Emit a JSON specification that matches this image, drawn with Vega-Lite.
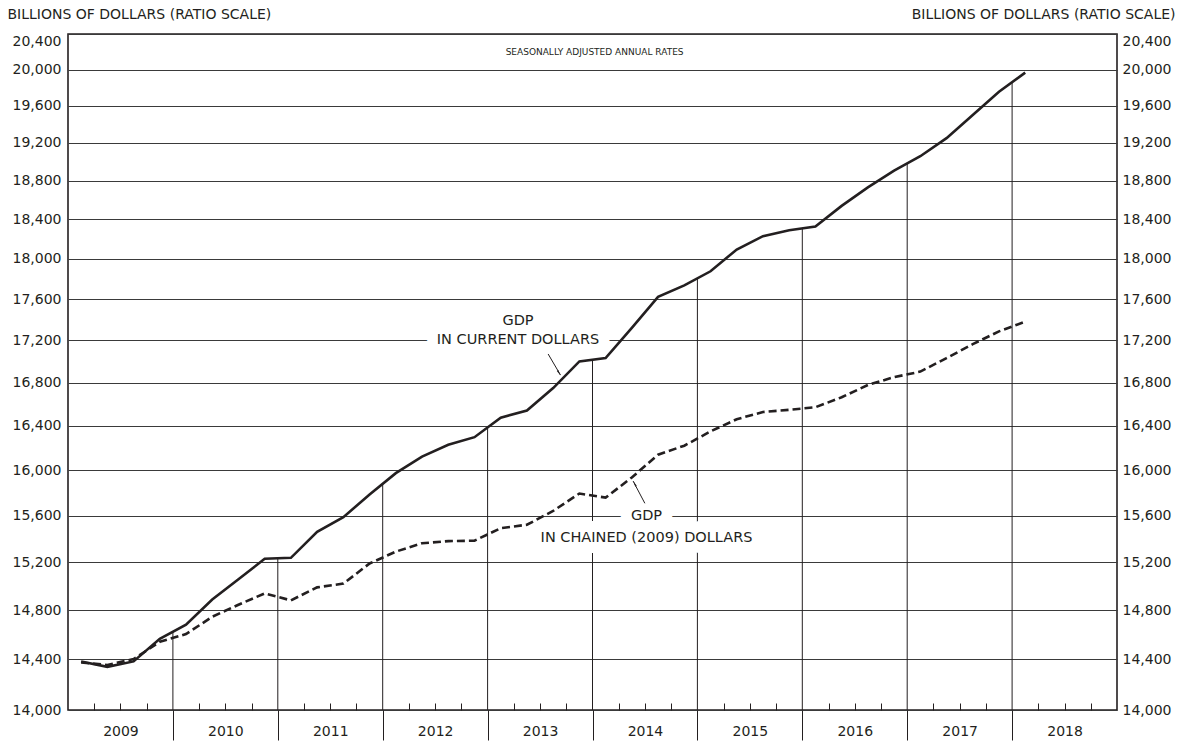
{
  "$schema": "https://vega.github.io/schema/vega-lite/v6.json",
  "width": 1049,
  "height": 676,
  "autosize": {"type": "none"},
  "padding": {"left": 68, "top": 34, "right": 64, "bottom": 33},
  "background": "white",
  "config": {
    "font": "DejaVu Sans",
    "view": {"stroke": "#231f20", "strokeWidth": 1.6},
    "axis": {"labelColor": "#231f20", "titleColor": "#231f20", "tickColor": "#231f20", "domain": false}
  },
  "datasets": {
    "gdp": [
      {"quarter": "2009 Q1", "t": 2009.125, "series": "current", "v": 14383.9},
      {"quarter": "2009 Q2", "t": 2009.375, "series": "current", "v": 14340.4},
      {"quarter": "2009 Q3", "t": 2009.625, "series": "current", "v": 14384.1},
      {"quarter": "2009 Q4", "t": 2009.875, "series": "current", "v": 14566.5},
      {"quarter": "2010 Q1", "t": 2010.125, "series": "current", "v": 14681.1},
      {"quarter": "2010 Q2", "t": 2010.375, "series": "current", "v": 14888.6},
      {"quarter": "2010 Q3", "t": 2010.625, "series": "current", "v": 15057.7},
      {"quarter": "2010 Q4", "t": 2010.875, "series": "current", "v": 15230.2},
      {"quarter": "2011 Q1", "t": 2011.125, "series": "current", "v": 15238.4},
      {"quarter": "2011 Q2", "t": 2011.375, "series": "current", "v": 15460.9},
      {"quarter": "2011 Q3", "t": 2011.625, "series": "current", "v": 15587.1},
      {"quarter": "2011 Q4", "t": 2011.875, "series": "current", "v": 15785.3},
      {"quarter": "2012 Q1", "t": 2012.125, "series": "current", "v": 15973.9},
      {"quarter": "2012 Q2", "t": 2012.375, "series": "current", "v": 16121.9},
      {"quarter": "2012 Q3", "t": 2012.625, "series": "current", "v": 16227.9},
      {"quarter": "2012 Q4", "t": 2012.875, "series": "current", "v": 16297.3},
      {"quarter": "2013 Q1", "t": 2013.125, "series": "current", "v": 16475.4},
      {"quarter": "2013 Q2", "t": 2013.375, "series": "current", "v": 16541.4},
      {"quarter": "2013 Q3", "t": 2013.625, "series": "current", "v": 16749.3},
      {"quarter": "2013 Q4", "t": 2013.875, "series": "current", "v": 16999.9},
      {"quarter": "2014 Q1", "t": 2014.125, "series": "current", "v": 17031.3},
      {"quarter": "2014 Q2", "t": 2014.375, "series": "current", "v": 17320.9},
      {"quarter": "2014 Q3", "t": 2014.625, "series": "current", "v": 17622.3},
      {"quarter": "2014 Q4", "t": 2014.875, "series": "current", "v": 17735.1},
      {"quarter": "2015 Q1", "t": 2015.125, "series": "current", "v": 17874.7},
      {"quarter": "2015 Q2", "t": 2015.375, "series": "current", "v": 18093.2},
      {"quarter": "2015 Q3", "t": 2015.625, "series": "current", "v": 18227.7},
      {"quarter": "2015 Q4", "t": 2015.875, "series": "current", "v": 18287.2},
      {"quarter": "2016 Q1", "t": 2016.125, "series": "current", "v": 18325.2},
      {"quarter": "2016 Q2", "t": 2016.375, "series": "current", "v": 18538.0},
      {"quarter": "2016 Q3", "t": 2016.625, "series": "current", "v": 18729.1},
      {"quarter": "2016 Q4", "t": 2016.875, "series": "current", "v": 18905.5},
      {"quarter": "2017 Q1", "t": 2017.125, "series": "current", "v": 19057.7},
      {"quarter": "2017 Q2", "t": 2017.375, "series": "current", "v": 19250.0},
      {"quarter": "2017 Q3", "t": 2017.625, "series": "current", "v": 19500.6},
      {"quarter": "2017 Q4", "t": 2017.875, "series": "current", "v": 19754.1},
      {"quarter": "2018 Q1", "t": 2018.125, "series": "current", "v": 19965.3},
      {"quarter": "2009 Q1", "t": 2009.125, "series": "chained", "v": 14375.0},
      {"quarter": "2009 Q2", "t": 2009.375, "series": "chained", "v": 14355.6},
      {"quarter": "2009 Q3", "t": 2009.625, "series": "chained", "v": 14402.5},
      {"quarter": "2009 Q4", "t": 2009.875, "series": "chained", "v": 14541.9},
      {"quarter": "2010 Q1", "t": 2010.125, "series": "chained", "v": 14604.8},
      {"quarter": "2010 Q2", "t": 2010.375, "series": "chained", "v": 14745.9},
      {"quarter": "2010 Q3", "t": 2010.625, "series": "chained", "v": 14845.5},
      {"quarter": "2010 Q4", "t": 2010.875, "series": "chained", "v": 14939.0},
      {"quarter": "2011 Q1", "t": 2011.125, "series": "chained", "v": 14881.3},
      {"quarter": "2011 Q2", "t": 2011.375, "series": "chained", "v": 14989.6},
      {"quarter": "2011 Q3", "t": 2011.625, "series": "chained", "v": 15021.1},
      {"quarter": "2011 Q4", "t": 2011.875, "series": "chained", "v": 15190.3},
      {"quarter": "2012 Q1", "t": 2012.125, "series": "chained", "v": 15291.0},
      {"quarter": "2012 Q2", "t": 2012.375, "series": "chained", "v": 15362.4},
      {"quarter": "2012 Q3", "t": 2012.625, "series": "chained", "v": 15380.8},
      {"quarter": "2012 Q4", "t": 2012.875, "series": "chained", "v": 15384.3},
      {"quarter": "2013 Q1", "t": 2013.125, "series": "chained", "v": 15491.9},
      {"quarter": "2013 Q2", "t": 2013.375, "series": "chained", "v": 15521.6},
      {"quarter": "2013 Q3", "t": 2013.625, "series": "chained", "v": 15641.3},
      {"quarter": "2013 Q4", "t": 2013.875, "series": "chained", "v": 15793.9},
      {"quarter": "2014 Q1", "t": 2014.125, "series": "chained", "v": 15757.6},
      {"quarter": "2014 Q2", "t": 2014.375, "series": "chained", "v": 15935.8},
      {"quarter": "2014 Q3", "t": 2014.625, "series": "chained", "v": 16139.5},
      {"quarter": "2014 Q4", "t": 2014.875, "series": "chained", "v": 16220.2},
      {"quarter": "2015 Q1", "t": 2015.125, "series": "chained", "v": 16350.0},
      {"quarter": "2015 Q2", "t": 2015.375, "series": "chained", "v": 16460.9},
      {"quarter": "2015 Q3", "t": 2015.625, "series": "chained", "v": 16527.6},
      {"quarter": "2015 Q4", "t": 2015.875, "series": "chained", "v": 16547.6},
      {"quarter": "2016 Q1", "t": 2016.125, "series": "chained", "v": 16571.6},
      {"quarter": "2016 Q2", "t": 2016.375, "series": "chained", "v": 16663.5},
      {"quarter": "2016 Q3", "t": 2016.625, "series": "chained", "v": 16778.1},
      {"quarter": "2016 Q4", "t": 2016.875, "series": "chained", "v": 16851.4},
      {"quarter": "2017 Q1", "t": 2017.125, "series": "chained", "v": 16903.2},
      {"quarter": "2017 Q2", "t": 2017.375, "series": "chained", "v": 17031.1},
      {"quarter": "2017 Q3", "t": 2017.625, "series": "chained", "v": 17163.9},
      {"quarter": "2017 Q4", "t": 2017.875, "series": "chained", "v": 17286.5},
      {"quarter": "2018 Q1", "t": 2018.125, "series": "chained", "v": 17380.0}
    ],
    "yearLines": [
      {"year": 2010, "t": 2010, "v": 14623.8},
      {"year": 2011, "t": 2011, "v": 15234.3},
      {"year": 2012, "t": 2012, "v": 15879.6},
      {"year": 2013, "t": 2013, "v": 16386.4},
      {"year": 2014, "t": 2014, "v": 17015.6},
      {"year": 2015, "t": 2015, "v": 17804.9},
      {"year": 2016, "t": 2016, "v": 18306.2},
      {"year": 2017, "t": 2017, "v": 18981.6},
      {"year": 2018, "t": 2018, "v": 19859.7}
    ],
    "labels": [
      {"t": 2013.29, "v": 17386, "text": "GDP"},
      {"t": 2013.29, "v": 17200, "text": "IN CURRENT DOLLARS"},
      {"t": 2014.515, "v": 15600, "text": "GDP"},
      {"t": 2014.515, "v": 15410, "text": "IN CHAINED (2009) DOLLARS"}
    ],
    "note": [
      {"t": 2014.02, "v": 20196, "text": "SEASONALLY ADJUSTED ANNUAL RATES"}
    ],
    "arrows": [
      {"id": "current", "t": 2013.577, "v": 17070, "t2": 2013.695, "v2": 16871, "ht": 2013.676, "hv": 16898},
      {"id": "chained", "t": 2014.499, "v": 15708, "t2": 2014.387, "v2": 15904, "ht": 2014.406, "hv": 15873}
    ]
  },
  "resolve": {
    "scale": {"x": "shared", "y": "shared"},
    "axis": {"x": "independent", "y": "independent"}
  },
  "layer": [
    {
      "data": {"name": "yearLines"},
      "mark": {"type": "rule", "color": "#231f20", "strokeWidth": 1},
      "encoding": {
        "x": {"field": "t", "type": "quantitative", "scale": {"domain": [2009, 2019], "nice": false, "zero": false},
          "axis": {"orient": "bottom", "values": [2010, 2011, 2012, 2013, 2014, 2015, 2016, 2017, 2018], "labels": false, "ticks": true, "tickSize": 30, "tickWidth": 1, "grid": false, "title": null}},
        "y": {"field": "v", "type": "quantitative", "scale": {"type": "log", "domain": [14000, 20400], "nice": false}, "axis": null},
        "y2": {"datum": 14000}
      }
    },
    {
      "data": {"name": "labels"},
      "mark": {"type": "text", "fontSize": 14.5, "fill": "white", "stroke": "white", "strokeWidth": 22, "strokeJoin": "round", "baseline": "middle", "align": "center"},
      "encoding": {
        "x": {"field": "t", "type": "quantitative", "scale": {"domain": [2009, 2019], "nice": false, "zero": false}, "axis": null},
        "y": {"field": "v", "type": "quantitative", "scale": {"type": "log", "domain": [14000, 20400], "nice": false}, "axis": null},
        "text": {"field": "text"}
      }
    },
    {
      "data": {"name": "gdp"},
      "transform": [{"filter": "datum.series === 'current'"}],
      "mark": {"type": "line", "color": "#231f20", "strokeWidth": 2.6},
      "encoding": {
        "x": {"field": "t", "type": "quantitative", "scale": {"domain": [2009, 2019], "nice": false, "zero": false},
          "axis": {"orient": "bottom", "offset": -7, "zindex": 1, "values": [2009.25, 2009.5, 2009.75, 2010.25, 2010.5, 2010.75, 2011.25, 2011.5, 2011.75, 2012.25, 2012.5, 2012.75, 2013.25, 2013.5, 2013.75, 2014.25, 2014.5, 2014.75, 2015.25, 2015.5, 2015.75, 2016.25, 2016.5, 2016.75, 2017.25, 2017.5, 2017.75, 2018.25, 2018.5, 2018.75],
            "labelExpr": "(datum.value % 1 == 0.5) ? ('' + floor(datum.value)) : ''", "labelOverlap": false, "labelBound": false, "labelFlush": false,
            "ticks": true, "tickSize": 7, "tickWidth": 1, "grid": false, "labelFontSize": 14, "labelPadding": 21, "labelBaseline": "middle", "labelAlign": "center", "title": null}},
        "y": {"field": "v", "type": "quantitative", "scale": {"type": "log", "domain": [14000, 20400], "nice": false},
          "axis": {"orient": "left", "values": [14000, 14400, 14800, 15200, 15600, 16000, 16400, 16800, 17200, 17600, 18000, 18400, 18800, 19200, 19600, 20000, 20400], "format": ",d", "grid": true, "gridColor": "#3a3a3a", "gridWidth": 1, "gridOpacity": 1, "ticks": false, "labelFontSize": 14, "labelPadding": 7,
            "labelBaseline": {"condition": {"test": "datum.value >= 20400", "value": "top"}, "value": "middle"},
            "title": "BILLIONS OF DOLLARS (RATIO SCALE)", "titleAngle": 0, "titleAlign": "left", "titleBaseline": "middle", "titleX": -61, "titleY": -20, "titleFontSize": 14, "titleFontWeight": "normal"}}
      }
    },
    {
      "data": {"name": "gdp"},
      "transform": [{"filter": "datum.series === 'chained'"}],
      "mark": {"type": "line", "color": "#231f20", "strokeWidth": 2.6, "strokeDash": [8, 4]},
      "encoding": {
        "x": {"field": "t", "type": "quantitative", "scale": {"domain": [2009, 2019], "nice": false, "zero": false}, "axis": null},
        "y": {"field": "v", "type": "quantitative", "scale": {"type": "log", "domain": [14000, 20400], "nice": false},
          "axis": {"orient": "right", "values": [14000, 14400, 14800, 15200, 15600, 16000, 16400, 16800, 17200, 17600, 18000, 18400, 18800, 19200, 19600, 20000, 20400], "format": ",d", "grid": false, "ticks": false, "labelFontSize": 14, "labelPadding": 5,
            "labelBaseline": {"condition": {"test": "datum.value >= 20400", "value": "top"}, "value": "middle"},
            "title": "BILLIONS OF DOLLARS (RATIO SCALE)", "titleAngle": 0, "titleAlign": "right", "titleBaseline": "middle", "titleX": 58, "titleY": -20, "titleFontSize": 14, "titleFontWeight": "normal"}}
      }
    },
    {
      "data": {"name": "labels"},
      "mark": {"type": "text", "fontSize": 14.5, "color": "#231f20", "baseline": "middle", "align": "center"},
      "encoding": {
        "x": {"field": "t", "type": "quantitative", "scale": {"domain": [2009, 2019], "nice": false, "zero": false}, "axis": null},
        "y": {"field": "v", "type": "quantitative", "scale": {"type": "log", "domain": [14000, 20400], "nice": false}, "axis": null},
        "text": {"field": "text"}
      }
    },
    {
      "data": {"name": "note"},
      "mark": {"type": "text", "fontSize": 9, "color": "#231f20", "baseline": "middle", "align": "center"},
      "encoding": {
        "x": {"field": "t", "type": "quantitative", "scale": {"domain": [2009, 2019], "nice": false, "zero": false}, "axis": null},
        "y": {"field": "v", "type": "quantitative", "scale": {"type": "log", "domain": [14000, 20400], "nice": false}, "axis": null},
        "text": {"field": "text"}
      }
    },
    {
      "data": {"name": "arrows"},
      "mark": {"type": "rule", "color": "#231f20", "strokeWidth": 1},
      "encoding": {
        "x": {"field": "t", "type": "quantitative", "scale": {"domain": [2009, 2019], "nice": false, "zero": false}, "axis": null},
        "y": {"field": "v", "type": "quantitative", "scale": {"type": "log", "domain": [14000, 20400], "nice": false}, "axis": null},
        "x2": {"field": "t2"},
        "y2": {"field": "v2"}
      }
    },
    {
      "data": {"name": "arrows"},
      "transform": [{"filter": "datum.id === 'current'"}],
      "mark": {"type": "point", "shape": "wedge", "filled": true, "color": "#231f20", "size": 45, "angle": 150, "opacity": 1},
      "encoding": {
        "x": {"field": "ht", "type": "quantitative", "scale": {"domain": [2009, 2019], "nice": false, "zero": false}, "axis": null},
        "y": {"field": "hv", "type": "quantitative", "scale": {"type": "log", "domain": [14000, 20400], "nice": false}, "axis": null}
      }
    },
    {
      "data": {"name": "arrows"},
      "transform": [{"filter": "datum.id === 'chained'"}],
      "mark": {"type": "point", "shape": "wedge", "filled": true, "color": "#231f20", "size": 45, "angle": 332, "opacity": 1},
      "encoding": {
        "x": {"field": "ht", "type": "quantitative", "scale": {"domain": [2009, 2019], "nice": false, "zero": false}, "axis": null},
        "y": {"field": "hv", "type": "quantitative", "scale": {"type": "log", "domain": [14000, 20400], "nice": false}, "axis": null}
      }
    }
  ]
}
